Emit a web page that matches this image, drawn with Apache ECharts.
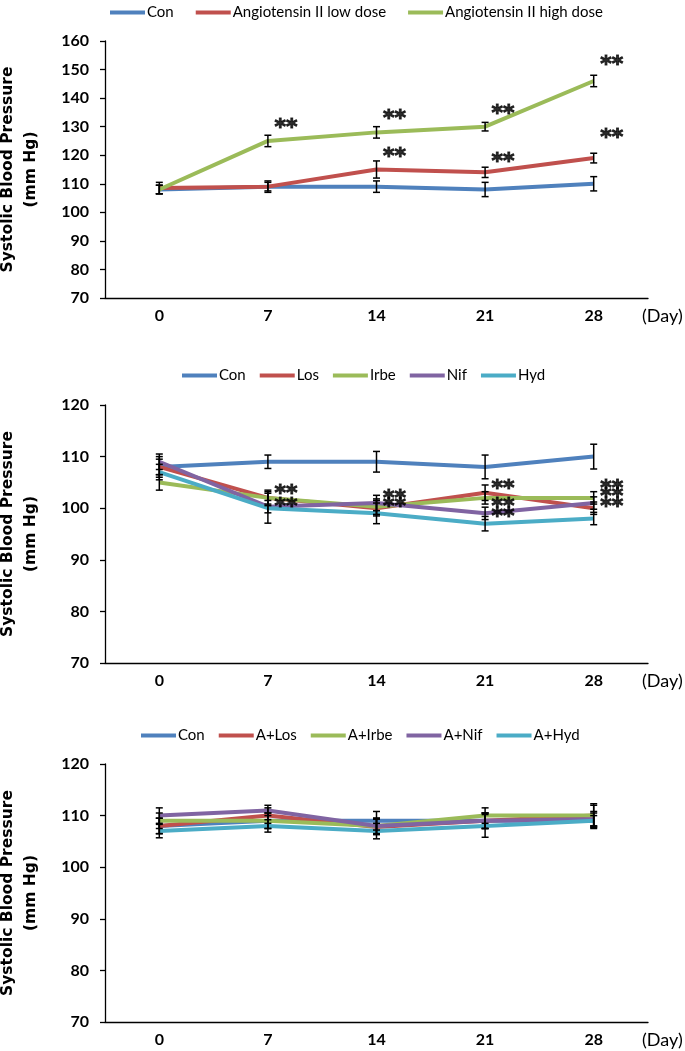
<!DOCTYPE html>
<html>
<head>
<meta charset="utf-8">
<script src="https://cdn.jsdelivr.net/npm/echarts@6/dist/echarts.min.js"></script>
<style>html,body{margin:0;padding:0;background:#fff;}#chart{width:685px;height:1051px;}</style>
</head>
<body>
<div id="chart"></div>
<script>
// ---------- data ----------
const categories = ['0', '7', '14', '21', '28'];

// Panel 1
const p1Names = ['Con', 'Angiotensin II low dose', 'Angiotensin II high dose'];
const p1Con = [108, 109, 109, 108, 110];
const p1Low = [108.5, 109, 115, 114, 119];
const p1High = [108, 125, 128, 130, 146];
const p1ConErr = [1.5, 2, 2, 2.5, 2.5];
const p1LowErr = [2, 1.5, 3, 1.8, 1.7];
const p1HighErr = [1.5, 2, 2, 1.5, 2];
const p1Stars = [[1, 131], [2, 134.1], [3, 135.8], [4, 152.8], [2, 120.7], [3, 119], [4, 127.3]];

// Panel 2
const p2Names = ['Con', 'Los', 'Irbe', 'Nif', 'Hyd'];
const p2Con = [108, 109, 109, 108, 110];
const p2Los = [108, 102, 100, 103, 100];
const p2Irbe = [105, 102, 100.3, 102, 102];
const p2Nif = [109, 100.3, 101, 99, 101];
const p2Hyd = [107, 100, 99, 97, 98];
const p2ConErr = [2, 1.3, 2, 2.3, 2.4];
const p2LosErr = [1.5, 1.5, 1.5, 1.5, 1.2];
const p2IrbeErr = [1.5, 1.2, 1.5, 1.2, 1.2];
const p2NifErr = [1.5, 1.2, 1.5, 1.2, 1.2];
const p2HydErr = [1.5, 2.9, 2, 1.4, 1.2];
const p2Stars = [[1, 103.4], [1, 101.0], [2, 102.6], [2, 101.0], [3, 104.5], [3, 101.0], [3, 99.1], [4, 104.5], [4, 102.8], [4, 101.0]];

// Panel 3
const p3Names = ['Con', 'A+Los', 'A+Irbe', 'A+Nif', 'A+Hyd'];
const p3Con = [108, 109, 109, 109, 109];
const p3Los = [108, 110, 107.8, 109, 110];
const p3Irbe = [109, 109, 108, 110, 110];
const p3Nif = [110, 111, 108, 109, 109.3];
const p3Hyd = [107, 108, 107, 108, 109];
const p3ConErr = [1.5, 1.5, 1.8, 1.5, 1.5];
const p3LosErr = [1.5, 1.5, 1.5, 1.5, 2];
const p3IrbeErr = [1.5, 1.5, 1.5, 1.5, 2.3];
const p3NifErr = [1.5, 1, 1.5, 1.5, 1.5];
const p3HydErr = [1.3, 1.2, 1.5, 2.2, 1];

// ---------- styling ----------
const FONT = 'Lato';
const COLORS = ['#4F81BD', '#C0504D', '#9BBB59', '#8064A2', '#4BACC6'];

const panels = [
  { names: p1Names, values: [p1Con, p1Low, p1High], errs: [p1ConErr, p1LowErr, p1HighErr], stars: p1Stars,
    min: 70, max: 160, top: 41, height: 257, legendTop: 0, legendLeft: 105, legendGap: 22 },
  { names: p2Names, values: [p2Con, p2Los, p2Irbe, p2Nif, p2Hyd], errs: [p2ConErr, p2LosErr, p2IrbeErr, p2NifErr, p2HydErr], stars: p2Stars,
    min: 70, max: 120, top: 405, height: 258, legendTop: 363, legendLeft: 177, legendGap: 14 },
  { names: p3Names, values: [p3Con, p3Los, p3Irbe, p3Nif, p3Hyd], errs: [p3ConErr, p3LosErr, p3IrbeErr, p3NifErr, p3HydErr], stars: [],
    min: 70, max: 120, top: 764, height: 258, legendTop: 723, legendLeft: 136, legendGap: 14 }
];

function errRender(params, api) {
  const x = api.value(0), v = api.value(1), e = api.value(2);
  const t = api.coord([x, v + e]);
  const b = api.coord([x, v - e]);
  const w = 3.5;
  const st = { stroke: '#000', lineWidth: 1.5 };
  return { type: 'group', children: [
    { type: 'line', shape: { x1: t[0], y1: t[1], x2: b[0], y2: b[1] }, style: st },
    { type: 'line', shape: { x1: t[0] - w, y1: t[1], x2: t[0] + w, y2: t[1] }, style: st },
    { type: 'line', shape: { x1: b[0] - w, y1: b[1], x2: b[0] + w, y2: b[1] }, style: st }
  ]};
}

const grid = [], xAxis = [], yAxis = [], legend = [], series = [];
panels.forEach((p, gi) => {
  grid.push({ left: 105, right: 37, top: p.top, height: p.height, outerBoundsMode: 'none', containLabel: false });
  xAxis.push({
    type: 'category', gridIndex: gi, data: categories, boundaryGap: true,
    axisLine: { lineStyle: { color: '#000', width: 1.3 } },
    axisTick: { alignWithLabel: true, length: 5, lineStyle: { color: '#000', width: 1.3 } },
    axisLabel: { color: '#000', fontFamily: FONT, fontWeight: 'bold', fontSize: 16, margin: 10 },
    name: '(Day)', nameLocation: 'end', nameGap: -6,
    nameTextStyle: { color: '#000', fontFamily: FONT, fontSize: 18, align: 'left', verticalAlign: 'top', lineHeight: 36 }
  });
  yAxis.push({
    type: 'value', gridIndex: gi, min: p.min, max: p.max, interval: 10,
    splitLine: { show: false },
    axisLine: { show: true, lineStyle: { color: '#000', width: 1.3 } },
    axisTick: { show: true, length: 5, lineStyle: { color: '#000', width: 1.3 } },
    axisLabel: { color: '#000', fontFamily: FONT, fontWeight: 'bold', fontSize: 16, margin: 16 },
    name: 'Systolic Blood Pressure\n(mm Hg)', nameLocation: 'middle', nameGap: 63,
    nameTextStyle: { color: '#000', fontFamily: 'DejaVu Sans', fontWeight: 'bold', fontSize: 15.5, lineHeight: 23 }
  });
  legend.push({
    top: p.legendTop, left: p.legendLeft, itemGap: p.legendGap, itemWidth: 35, itemHeight: 4,
    icon: 'rect', data: p.names,
    textStyle: { color: '#000', fontFamily: FONT, fontSize: 15, padding: [0, 0, 0, -3] }
  });
  p.names.forEach((nm, si) => {
    series.push({
      name: nm, type: 'line', xAxisIndex: gi, yAxisIndex: gi, data: p.values[si],
      symbol: 'none', color: COLORS[si], lineStyle: { width: 4, color: COLORS[si] }, z: 2,
      emphasis: { disabled: true }
    });
  });
  p.names.forEach((nm, si) => {
    series.push({
      type: 'custom', xAxisIndex: gi, yAxisIndex: gi, renderItem: errRender, z: 3,
      data: p.values[si].map((v, i) => [i, v, p.errs[si][i]]), encode: { x: 0, y: 1 }, silent: true
    });
  });
  if (p.stars.length) {
    series.push({
      type: 'scatter', xAxisIndex: gi, yAxisIndex: gi, data: p.stars, symbolSize: 0, z: 4, silent: true,
      label: { show: true, formatter: '**', position: 'inside', offset: [18, 4], color: '#000',
               fontFamily: 'DejaVu Sans', fontWeight: 'bold', fontSize: 22,
               textBorderColor: '#000', textBorderWidth: 1 }
    });
  }
});

const chart = echarts.init(document.getElementById('chart'), null, { renderer: 'canvas' });
chart.setOption({ animation: false, backgroundColor: '#fff', grid, xAxis, yAxis, legend, series });
</script>
</body>
</html>
